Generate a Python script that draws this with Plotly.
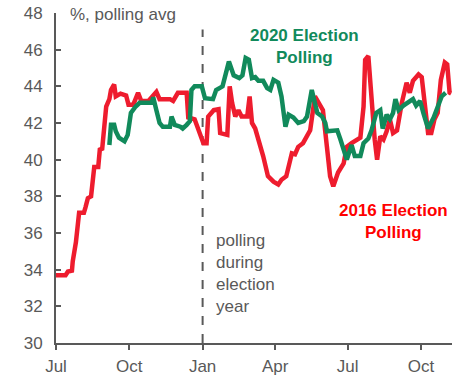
import plotly.graph_objects as go

# 2016 election polling (aligned to election-cycle calendar)
red_dates = ["2019-07-01","2019-07-13","2019-07-16","2019-07-21","2019-07-22","2019-07-26","2019-07-30","2019-08-05","2019-08-07","2019-08-10","2019-08-14","2019-08-16","2019-08-18","2019-08-23","2019-08-25","2019-08-28","2019-08-30","2019-09-02","2019-09-06","2019-09-08","2019-09-12","2019-09-14","2019-09-20","2019-09-27","2019-09-30","2019-10-06","2019-10-12","2019-10-16","2019-10-25","2019-11-04","2019-11-08","2019-11-21","2019-11-25","2019-12-01","2019-12-12","2019-12-14","2019-12-22","2019-12-28","2020-01-02","2020-01-06","2020-01-08","2020-01-15","2020-01-21","2020-01-23","2020-02-01","2020-02-04","2020-02-07","2020-02-11","2020-02-15","2020-02-19","2020-02-26","2020-02-29","2020-03-03","2020-03-07","2020-03-13","2020-03-17","2020-03-23","2020-03-30","2020-04-05","2020-04-09","2020-04-15","2020-04-22","2020-04-26","2020-04-30","2020-05-06","2020-05-15","2020-05-21","2020-05-25","2020-05-31","2020-06-05","2020-06-09","2020-06-13","2020-06-19","2020-06-26","2020-06-30","2020-07-06","2020-07-17","2020-07-21","2020-07-23","2020-07-27","2020-07-31","2020-08-04","2020-08-07","2020-08-11","2020-08-15","2020-08-19","2020-08-23","2020-08-27","2020-09-01","2020-09-07","2020-09-13","2020-09-17","2020-09-21","2020-09-28","2020-10-02","2020-10-06","2020-10-10","2020-10-14","2020-10-18","2020-10-22","2020-10-26","2020-10-31","2020-11-03","2020-11-06","2020-11-08"]
red_values = [33.7,33.7,33.9,33.95,34.45,35.5,37.1,37.1,37.4,37.9,38.0,38.6,39.6,39.6,40.55,40.6,41.45,42.9,43.3,43.8,44.1,43.45,43.6,43.5,43.0,43.0,43.65,43.2,43.2,43.7,43.3,43.3,43.2,43.65,43.65,42.3,42.2,41.45,40.9,40.9,42.35,42.7,42.75,41.45,41.35,44.0,43.1,42.35,42.7,42.35,42.35,43.45,42.0,41.7,40.9,40.2,39.1,38.8,38.65,38.9,39.1,40.35,40.3,40.7,40.9,41.6,43.45,43.1,42.7,40.7,39.1,38.55,39.3,39.8,40.7,40.9,41.2,42.9,45.45,45.65,42.9,41.1,40.0,41.27,41.1,41.55,42.2,41.45,41.6,43.1,44.2,43.65,44.3,44.65,44.5,42.9,41.45,41.45,42.2,42.55,44.35,45.3,45.2,43.65,43.6]

# 2020 election polling
green_dates = ["2019-09-06","2019-09-08","2019-09-12","2019-09-14","2019-09-18","2019-09-25","2019-09-29","2019-10-03","2019-10-09","2019-10-14","2019-10-29","2019-10-31","2019-11-04","2019-11-08","2019-11-12","2019-11-21","2019-11-23","2019-11-27","2019-12-04","2019-12-07","2019-12-12","2019-12-16","2019-12-18","2019-12-22","2019-12-31","2020-01-04","2020-01-14","2020-01-18","2020-01-26","2020-01-30","2020-02-03","2020-02-09","2020-02-16","2020-02-20","2020-02-24","2020-02-28","2020-03-03","2020-03-07","2020-03-11","2020-03-17","2020-03-22","2020-03-26","2020-03-30","2020-04-05","2020-04-09","2020-04-14","2020-04-18","2020-04-24","2020-04-30","2020-05-07","2020-05-11","2020-05-17","2020-05-24","2020-05-30","2020-06-03","2020-06-05","2020-06-18","2020-06-22","2020-06-26","2020-06-30","2020-07-06","2020-07-10","2020-07-17","2020-07-21","2020-07-27","2020-07-31","2020-08-06","2020-08-11","2020-08-14","2020-08-19","2020-08-23","2020-08-27","2020-08-30","2020-09-03","2020-09-09","2020-09-15","2020-09-21","2020-09-25","2020-09-30","2020-10-04","2020-10-10","2020-10-17","2020-10-23","2020-10-27","2020-11-01"]
green_values = [40.8,41.9,41.9,41.55,41.2,41.0,41.35,42.55,42.9,43.1,43.1,43.4,42.7,42.0,41.8,41.8,42.35,41.9,41.8,41.7,41.9,42.1,43.8,44.0,44.0,43.35,43.3,43.8,44.0,44.6,45.35,44.6,44.45,44.6,45.55,45.45,44.45,44.5,44.3,44.3,43.9,43.8,44.35,44.2,43.45,41.8,42.45,42.3,42.0,42.1,42.35,43.8,42.55,42.35,42.0,41.55,41.6,41.1,40.5,40.0,40.8,40.2,40.2,40.9,41.15,41.6,42.55,42.7,41.7,42.45,42.2,42.55,43.3,42.7,42.95,43.1,43.3,42.95,43.2,42.55,41.7,42.3,43.0,43.45,43.65]

tick_dates = ["2019-07-01","2019-10-01","2020-01-01","2020-04-01","2020-07-01","2020-10-01"]
tick_labels = ["Jul","Oct","Jan","Apr","Jul","Oct"]
y_ticks = [30,32,34,36,38,40,42,44,46,48]

FONT = "Liberation Sans, Arial, sans-serif"
GRAY = "#595959"
RED = "#EE1C2E"
GREEN = "#118A5B"

fig = go.Figure()
fig.add_trace(go.Scatter(x=red_dates, y=red_values, mode="lines",
                         line=dict(color=RED, width=4.5), hoverinfo="skip"))
fig.add_trace(go.Scatter(x=green_dates, y=green_values, mode="lines",
                         line=dict(color=GREEN, width=4.5), hoverinfo="skip"))

fig.add_shape(type="line", xref="x", yref="y", x0="2020-01-01", x1="2020-01-01",
              y0=30, y1=47.1, line=dict(color=GRAY, width=2, dash="dash"), layer="below")

fig.add_annotation(xref="paper", yref="paper", x=0.03, y=0.995, xanchor="left", yanchor="middle",
                   text="%, polling avg", showarrow=False, font=dict(family=FONT, size=17, color=GRAY))
fig.add_annotation(xref="x", yref="y", x="2020-01-15", y=33.8, xanchor="left", yanchor="middle",
                   align="left", showarrow=False,
                   text="polling<br>during<br>election<br>year",
                   font=dict(family=FONT, size=17, color=GRAY))
fig.add_annotation(xref="x", yref="y", x="2020-05-08", y=46.15, xanchor="center", yanchor="middle",
                   align="center", showarrow=False,
                   text="<b>2020 Election<br>Polling</b>",
                   font=dict(family=FONT, size=17, color=GREEN))
fig.add_annotation(xref="x", yref="y", x="2020-08-28", y=36.65, xanchor="center", yanchor="middle",
                   align="center", showarrow=False,
                   text="<b>2016 Election<br>Polling</b>",
                   font=dict(family=FONT, size=17, color="#FF0000"))

fig.update_layout(
    width=461, height=377,
    margin=dict(l=56, r=9, t=13, b=34),
    paper_bgcolor="white", plot_bgcolor="white",
    showlegend=False,
    font=dict(family=FONT, size=17, color=GRAY),
)
fig.update_xaxes(type="date", range=["2019-07-01", "2020-11-09"],
                 tickvals=tick_dates, ticktext=tick_labels,
                 showgrid=False, zeroline=False, automargin=False,
                 showline=True, linecolor=GRAY, linewidth=2,
                 ticks="outside", ticklen=5, tickwidth=2, tickcolor=GRAY,
                 ticklabelstandoff=2,
                 tickfont=dict(family=FONT, size=17, color=GRAY))
fig.update_yaxes(range=[30, 48], tickvals=y_ticks,
                 showgrid=False, zeroline=False, automargin=False,
                 showline=True, linecolor=GRAY, linewidth=2,
                 ticks="inside", ticklen=5, tickwidth=2, tickcolor=GRAY,
                 ticklabelstandoff=8,
                 tickfont=dict(family=FONT, size=17, color=GRAY))

fig.write_html("out.html")
